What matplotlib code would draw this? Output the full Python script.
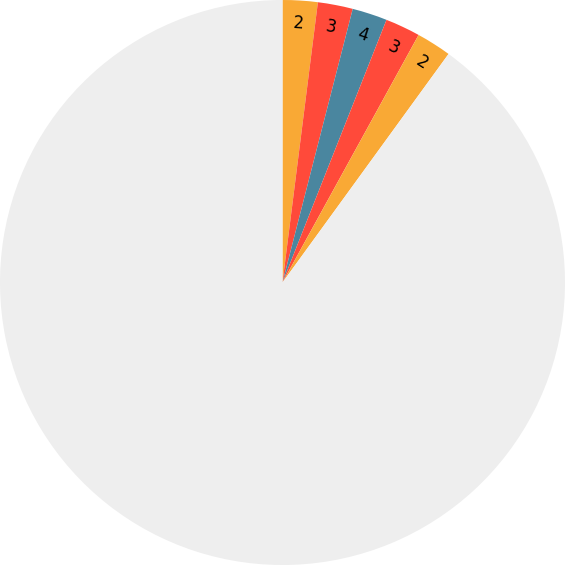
import numpy as np
import matplotlib.pyplot as plt

valores = [2, 2, 2, 2, 2, 90]
rotulos = ["2", "3", "4", "3", "2", ""]
cores = ["#F9A935", "#FF4A3A", "#4A869F", "#FF4A3A", "#F9A935", "#EEEEEE"]

fig = plt.figure(figsize=(5.65, 5.65), dpi=100)
ax = fig.add_axes([0, 0, 1, 1])
fatias, _ = ax.pie(valores, colors=cores, startangle=90, counterclock=False,
                   radius=1.0, wedgeprops=dict(linewidth=0))
ax.set_xlim(-1.0, 1.0)
ax.set_ylim(-1.0, 1.0)
ax.set_aspect("equal")
ax.axis("off")

for w, r in zip(fatias, rotulos):
    if not r:
        continue
    ang = (w.theta1 + w.theta2) / 2
    x = 0.92 * np.cos(np.radians(ang))
    y = 0.92 * np.sin(np.radians(ang))
    ax.text(x, y, r, ha="center", va="center", fontsize=12,
            rotation=ang - 90, rotation_mode="anchor")

fig.savefig("out.png", dpi=100)
